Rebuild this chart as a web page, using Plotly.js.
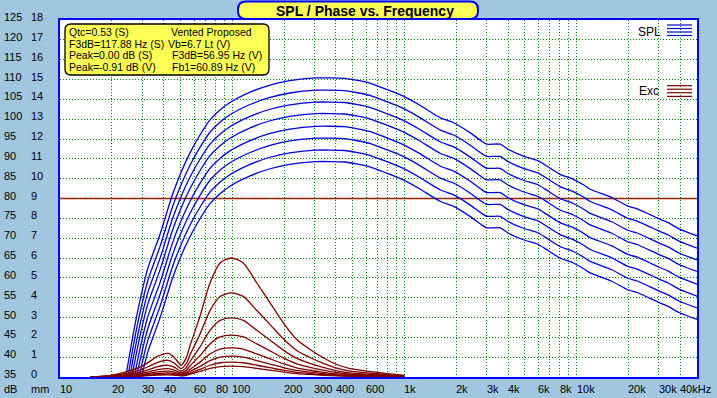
<!DOCTYPE html>
<html><head><meta charset="utf-8">
<script src="https://cdn.plot.ly/plotly-3.0.1.min.js"></script>
<style>html,body{margin:0;padding:0;background:#a0c6e0;overflow:hidden}#chart{width:717px;height:398px}</style>
</head><body><div id="chart"></div>
<script>
// ---- SPL (top curve, Hz / dB) ----
const splFreq = [20, 23, 24.3, 26.4, 29.2, 32.4, 38.1, 44.6, 49.8, 56.9, 65, 74.3, 84.9, 97, 127, 166, 216, 306, 450, 630, 790, 985, 1230, 1610, 1930, 2400, 2800, 3000, 3600, 4000, 4900, 6000, 6700, 8000, 9500, 11000, 11900, 15900, 19800, 22500, 26500, 30400, 34000, 39600, 50000];
const splTop  = [18, 30, 36, 45, 54.5, 62.5, 71, 80.5, 86, 91.5, 96, 99.8, 102.3, 104.2, 106.8, 108.6, 109.7, 110.4, 110.3, 109.1, 107.5, 105.8, 103.5, 100.4, 99.1, 96.6, 94.5, 93.7, 93.7, 92.4, 90.7, 89.5, 88.2, 86.1, 84.9, 83.4, 82.4, 80.3, 78.1, 77.4, 76.0, 74.8, 73.9, 72.3, 70.6];
// peak level of each of the 8 SPL curves (dB)
const splPeaks = [110.4, 107.3, 104.3, 101.4, 98.2, 95.2, 92.2, 89.3];

// ---- Excursion (top curve, Hz / mm) ----
const excFreq = [15, 20, 25, 30, 33.4, 37, 42.5, 46, 50.5, 54, 57, 65, 74.3, 85, 99, 116, 139, 166, 198, 237, 283, 338, 405, 483, 604, 800, 1000];
const excTop  = [0, 0.1, 0.3, 0.55, 0.8, 1.05, 1.19, 1.0, 0.6, 0.95, 1.6, 3.06, 4.74, 5.75, 6.0, 5.75, 4.74, 3.74, 2.73, 1.89, 1.39, 0.97, 0.63, 0.42, 0.30, 0.17, 0.08];
// peak excursion of each of the 8 curves (mm)
const excPeaks = [6.0, 4.24, 2.98, 2.11, 1.47, 1.05, 0.75, 0.55];

// ---- axes / ticks ----
const gridFreqs = [10,20,30,40,50,60,70,80,90,100,200,300,400,500,600,700,800,900,1000,2000,3000,4000,5000,6000,7000,8000,9000,10000,20000,30000,40000];
const xLabelFreqs = [10,20,30,40,60,80,100,200,300,400,600,1000,2000,3000,4000,6000,8000,10000,20000,30000,40000];
const xLabelText  = ['10','20','30','40','60','80','100','200','300','400','600','1k','2k','3k','4k','6k','8k','10k','20k','30k','40kHz'];
const dbTicks = [35,40,45,50,55,60,65,70,75,80,85,90,95,100,105,110,115,120,125];
const mmTicks = [0,1,2,3,4,5,6,7,8,9,10,11,12,13,14,15,16,17,18];
const refLevel = 80;

const infoLeft  = ['Qtc=0.53 (S)', 'F3dB=117.88 Hz (S)', 'Peak=0.00 dB (S)', 'Peak=-0.91 dB (V)'];
const infoRight = ['Vented Proposed', 'Vb=6.7 Lt (V)', 'F3dB=56.95 Hz (V)', 'Fb1=60.89 Hz (V)'];

// ---- pixel helpers (layout only) ----
const L = 60, R = 697, T = 20, B = 377;
const px = v => (v - L) / (R - L);
const py = v => (B - v) / (B - T);
function roundRect(x0, y0, x1, y1, r) {
  const X = v => px(v).toFixed(5), Y = v => py(v).toFixed(5);
  return 'M' + X(x0 + r) + ',' + Y(y0) + ' L' + X(x1 - r) + ',' + Y(y0) +
    ' Q' + X(x1) + ',' + Y(y0) + ' ' + X(x1) + ',' + Y(y0 + r) +
    ' L' + X(x1) + ',' + Y(y1 - r) +
    ' Q' + X(x1) + ',' + Y(y1) + ' ' + X(x1 - r) + ',' + Y(y1) +
    ' L' + X(x0 + r) + ',' + Y(y1) +
    ' Q' + X(x0) + ',' + Y(y1) + ' ' + X(x0) + ',' + Y(y1 - r) +
    ' L' + X(x0) + ',' + Y(y0 + r) +
    ' Q' + X(x0) + ',' + Y(y0) + ' ' + X(x0 + r) + ',' + Y(y0) + ' Z';
}

const FONT = 'Liberation Sans, Arial, sans-serif';
const txt = {family: FONT, size: 11, color: '#000000'};
const infoTxt = {family: FONT, size: 10.5, color: '#000000'};

const traces = [];
splPeaks.forEach(p => traces.push({
  type: 'scatter', mode: 'lines', x: splFreq, y: splTop.map(v => v + p - splPeaks[0]),
  line: {color: '#0000d8', width: 1.3, shape: 'spline', smoothing: 0.5},
  hoverinfo: 'skip', showlegend: false
}));
excPeaks.forEach(p => traces.push({
  type: 'scatter', mode: 'lines', x: excFreq, y: excTop.map(v => v * p / excPeaks[0]), yaxis: 'y2',
  line: {color: '#800000', width: 1.3, shape: 'spline', smoothing: 0.7},
  hoverinfo: 'skip', showlegend: false
}));

const annotations = [];
xLabelFreqs.forEach((f, i) => annotations.push({
  xref: 'x', x: Math.log10(f), yref: 'paper', y: py(389), xanchor: 'left', yanchor: 'middle',
  xshift: -2, text: xLabelText[i], showarrow: false, font: txt
}));
dbTicks.forEach(v => annotations.push({
  xref: 'paper', x: px(2), yref: 'y', y: v, xanchor: 'left', yanchor: 'middle', yshift: 3,
  text: String(v), showarrow: false, font: txt
}));
mmTicks.forEach(v => annotations.push({
  xref: 'paper', x: px(29), yref: 'y2', y: v, xanchor: 'left', yanchor: 'middle', yshift: 3,
  text: String(v), showarrow: false, font: txt
}));
annotations.push({xref: 'paper', x: px(2), yref: 'paper', y: py(389), xanchor: 'left', yanchor: 'middle', text: 'dB', showarrow: false, font: txt});
annotations.push({xref: 'paper', x: px(29), yref: 'paper', y: py(389), xanchor: 'left', yanchor: 'middle', text: 'mm', showarrow: false, font: txt});
// title
annotations.push({xref: 'paper', x: px(365), yref: 'paper', y: py(10.5), xanchor: 'center', yanchor: 'middle',
  text: '<b>SPL / Phase vs. Frequency</b>', showarrow: false, font: {family: FONT, size: 14, color: '#000000'}});
// info box text
const rowY = [32, 43.7, 55.3, 67];
const rightX = [169, 166, 169.5, 169.5];
infoLeft.forEach((t, i) => annotations.push({xref: 'paper', x: px(67), yref: 'paper', y: py(rowY[i]), xanchor: 'left', yanchor: 'middle', text: t, showarrow: false, font: infoTxt}));
infoRight.forEach((t, i) => annotations.push({xref: 'paper', x: px(rightX[i]), yref: 'paper', y: py(rowY[i]), xanchor: 'left', yanchor: 'middle', text: t, showarrow: false, font: infoTxt}));
// legend text
annotations.push({xref: 'paper', x: px(663), yref: 'paper', y: py(31.5), xanchor: 'right', yanchor: 'middle', text: 'SPL', showarrow: false, font: {family: FONT, size: 12, color: '#000'}});
annotations.push({xref: 'paper', x: px(661), yref: 'paper', y: py(91.5), xanchor: 'right', yanchor: 'middle', text: 'Exc', showarrow: false, font: {family: FONT, size: 12, color: '#000'}});

const shapes = [];
// reference line
shapes.push({type: 'line', xref: 'paper', x0: 0, x1: 1, yref: 'y', y0: refLevel, y1: refLevel, line: {color: '#cc0000', width: 1.5}, layer: 'between'});
// legend samples
[25, 28.5, 32, 35.5].forEach(y => shapes.push({type: 'line', xref: 'paper', yref: 'paper', x0: px(667), x1: px(692), y0: py(y), y1: py(y), line: {color: '#0000d8', width: 1.2}, layer: 'below'}));
[85.7, 89.2, 92.7, 96.4].forEach(y => shapes.push({type: 'line', xref: 'paper', yref: 'paper', x0: px(667), x1: px(692), y0: py(y), y1: py(y), line: {color: '#800000', width: 1.2}, layer: 'below'}));
// info box
shapes.push({type: 'path', xref: 'paper', yref: 'paper', path: roundRect(65, 24, 269, 75, 6), fillcolor: '#ffff55', line: {color: '#000000', width: 1.3}, layer: 'above'});
// title box
shapes.push({type: 'path', xref: 'paper', yref: 'paper', path: roundRect(238, 1.5, 478, 19, 8), fillcolor: '#ffff55', line: {color: '#0000ff', width: 2}, layer: 'above'});

const axisCommon = {
  showgrid: true, gridcolor: '#008000', gridwidth: 1, griddash: '1px,2px',
  showline: true, mirror: true, linecolor: '#0000ff', linewidth: 2,
  zeroline: false, ticks: '', showticklabels: false, fixedrange: true, layer: 'below traces'
};

const layout = {
  width: 717, height: 398,
  margin: {l: 60, r: 20, t: 20, b: 21, pad: 0, autoexpand: false},
  paper_bgcolor: '#a0c6e0', plot_bgcolor: '#ffffff',
  showlegend: false,
  xaxis: Object.assign({}, axisCommon, {type: 'log', range: [1, Math.log10(50000)], tickmode: 'array', tickvals: gridFreqs}),
  yaxis: Object.assign({}, axisCommon, {range: [35, 125], tickmode: 'array', tickvals: dbTicks}),
  yaxis2: {overlaying: 'y', range: [0, 18], visible: false, showgrid: false, zeroline: false, fixedrange: true},
  shapes: shapes,
  annotations: annotations
};

Plotly.newPlot('chart', traces, layout, {staticPlot: true, displayModeBar: false});
</script>
</body></html>
